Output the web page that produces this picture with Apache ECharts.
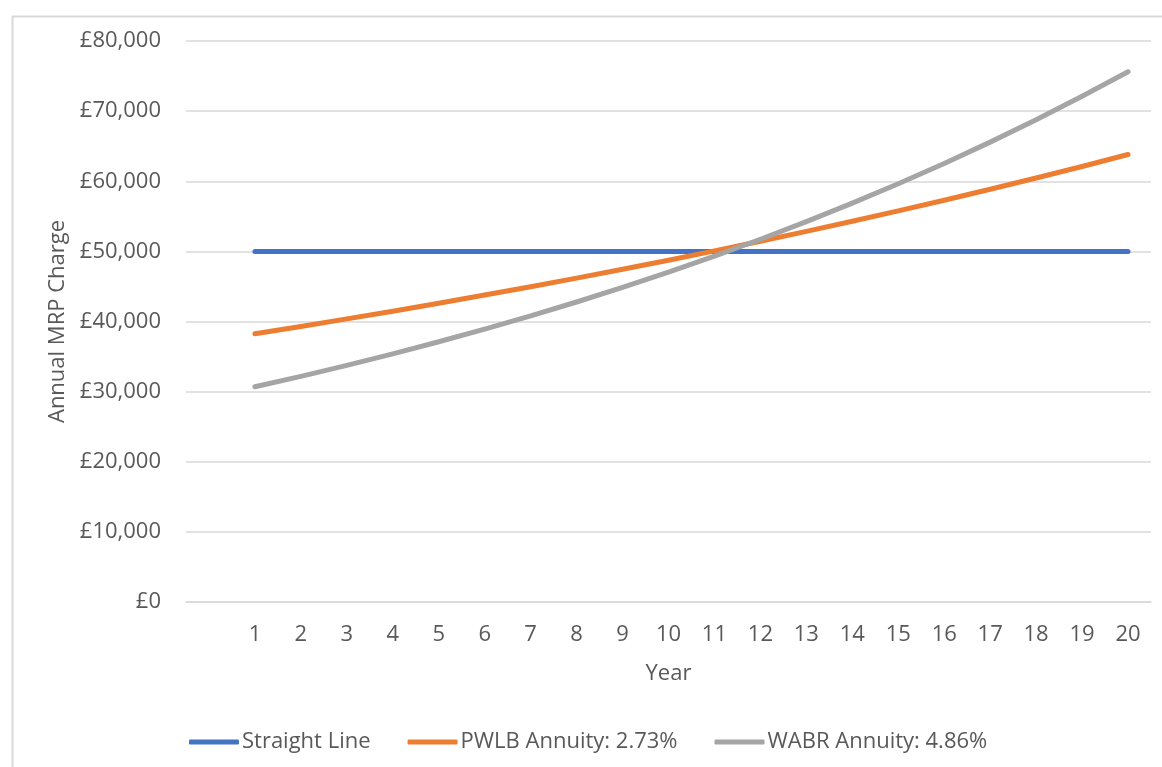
<!DOCTYPE html>
<html>
<head>
<meta charset="utf-8">
<script src="https://cdn.jsdelivr.net/npm/echarts@6/dist/echarts.min.js"></script>
<style>
html,body{margin:0;padding:0;background:#fff;}
#chart{width:1162px;height:767px;}
</style>
</head>
<body>
<div id="chart"></div>
<script>
const years = [1,2,3,4,5,6,7,8,9,10,11,12,13,14,15,16,17,18,19,20];
const straightLine = [50000,50000,50000,50000,50000,50000,50000,50000,50000,50000,50000,50000,50000,50000,50000,50000,50000,50000,50000,50000];
const pwlbAnnuity = [38250,39300,40370,41470,42600,43770,44960,46190,47450,48740,50070,51440,52850,54290,55770,57290,58860,60460,62110,63810];
const wabrAnnuity = [30690,32180,33750,35390,37110,38910,40800,42780,44860,47040,49330,51730,54240,56880,59640,62540,65580,68770,72110,75610];
const seriesNames = ['Straight Line','PWLB Annuity: 2.73%','WABR Annuity: 4.86%'];
const colors = ['#4472C4','#ED7D31','#A5A5A5'];

// leading empty category (as in the reference axis)
const categories = [''].concat(years.map(String));
const pad = arr => [null].concat(arr);

const textColor = '#595959';
const fontFamily = '"Open Sans", "Noto Sans", sans-serif';
const fs = 22;

const chart = echarts.init(document.getElementById('chart'), null, {renderer:'canvas'});
const mk = (name, data, color) => ({
  name, type:'line', data: pad(data), showSymbol:false, symbol:'none',
  lineStyle:{color, width:5, cap:'round', join:'round'},
  itemStyle:{color}, smooth:false, connectNulls:false
});
chart.setOption({
  animation:false,
  backgroundColor:'#fff',
  textStyle:{fontFamily, color:textColor},
  graphic:[{type:'rect', left:10, top:14, shape:{x:0,y:0,width:1300,height:900}, style:{fill:'none', stroke:'#d9d9d9', lineWidth:2}, silent:true, z:-10}],
  grid:{left:186, right:11, top:41, bottom:165, containLabel:false},
  xAxis:{
    type:'category', data:categories, boundaryGap:true,
    axisLine:{show:true, lineStyle:{color:'#d9d9d9', width:1.5}},
    axisTick:{show:false},
    axisLabel:{color:textColor, fontSize:fs, fontFamily, margin:22, interval:0},
    name:'Year', nameLocation:'middle', nameGap:61,
    nameTextStyle:{color:textColor, fontSize:fs, fontFamily}
  },
  yAxis:{
    type:'value', min:0, max:80000, interval:10000,
    axisLine:{show:false}, axisTick:{show:false},
    splitLine:{lineStyle:{color:'#d9d9d9', width:1.5}},
    axisLabel:{color:textColor, fontSize:fs, fontFamily, margin:25,
      formatter: v => '£' + v.toLocaleString('en-GB')},
    name:'Annual MRP Charge', nameLocation:'middle', nameGap:116, nameRotate:90,
    nameTextStyle:{color:textColor, fontSize:fs, fontFamily}
  },
  legend:{
    data:seriesNames, left:184, top:726, itemWidth:50, itemHeight:5, itemGap:37,
    icon:'roundRect',
    textStyle:{color:textColor, fontSize:fs, fontFamily, padding:[0,0,0,-2]}
  },
  series:[
    mk(seriesNames[0], straightLine, colors[0]),
    mk(seriesNames[1], pwlbAnnuity, colors[1]),
    mk(seriesNames[2], wabrAnnuity, colors[2])
  ]
});
</script>
</body>
</html>
